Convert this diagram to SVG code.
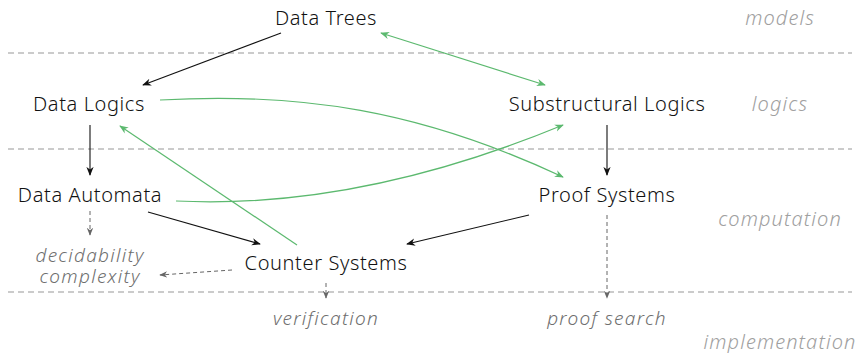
<svg xmlns="http://www.w3.org/2000/svg" width="861" height="353" viewBox="0 0 861 353">
<style>
.n{font-family:"Noto Sans","Open Sans",sans-serif;font-size:20px;font-weight:300;letter-spacing:0.6px;fill:#111;text-anchor:middle;dominant-baseline:central}
.g{font-family:"Noto Sans","Open Sans",sans-serif;font-size:19px;font-weight:300;font-style:italic;letter-spacing:1.3px;fill:#6e6e6e;text-anchor:middle;dominant-baseline:central}
.l{font-family:"Noto Sans","Open Sans",sans-serif;font-size:20px;font-weight:300;font-style:italic;letter-spacing:1.1px;fill:#a0a0a0;text-anchor:middle;dominant-baseline:central}
.sep{stroke:#bbb;stroke-width:1.3;stroke-dasharray:6 4;fill:none}
.k{stroke:#111;stroke-width:1.1;fill:none;marker-end:url(#ak)}
.gr{stroke:#5cb96f;stroke-width:1.2;fill:none;marker-end:url(#ag)}
.d{stroke:#666;stroke-width:1;stroke-dasharray:4 3;fill:none;marker-end:url(#ad)}
</style>
<defs>
<marker id="ak" viewBox="0 0 10 10" refX="9" refY="5" markerWidth="9" markerHeight="9" markerUnits="userSpaceOnUse" orient="auto"><path d="M0,1 L10,5 L0,9 L3,5 Z" fill="#111"/></marker>
<marker id="ag" viewBox="0 0 10 10" refX="9" refY="5" markerWidth="9" markerHeight="9" markerUnits="userSpaceOnUse" orient="auto-start-reverse"><path d="M0,1 L10,5 L0,9 L3,5 Z" fill="#5cb96f"/></marker>
<marker id="ad" viewBox="0 0 10 10" refX="9" refY="5" markerWidth="8" markerHeight="8" markerUnits="userSpaceOnUse" orient="auto"><path d="M0,1 L10,5 L0,9 L3,5 Z" fill="#666"/></marker>
</defs>
<g id="separators">
<line class="sep" x1="8" y1="53" x2="852" y2="53"/>
<line class="sep" x1="8" y1="149" x2="852" y2="149"/>
<line class="sep" x1="8" y1="292" x2="852" y2="292"/>
</g>
<g id="layer-labels">
<text class="l" x="780" y="17">models</text>
<text class="l" x="780" y="103">logics</text>
<text class="l" x="780" y="218">computation</text>
<text class="l" x="780" y="341">implementation</text>
</g>
<g id="connectors">
<line class="k" x1="281" y1="33" x2="143" y2="85"/>
<line class="k" x1="90" y1="125" x2="90" y2="175"/>
<line class="k" x1="607" y1="125" x2="607" y2="175"/>
<line class="k" x1="148" y1="212" x2="260" y2="244"/>
<line class="k" x1="529" y1="215" x2="407" y2="244"/>
<line class="gr" x1="545" y1="85" x2="381" y2="33" style="marker-start:url(#ag)"/>
<path class="gr" d="M160,100 C300,92 420,110 563,177"/>
<path class="gr" d="M176,201 C300,207 430,180 563,125"/>
<line class="gr" x1="297" y1="245" x2="120" y2="126"/>
<line class="d" x1="90" y1="211" x2="90" y2="235"/>
<line class="d" x1="232" y1="270" x2="160" y2="275"/>
<line class="d" x1="326" y1="283" x2="326" y2="298"/>
<line class="d" x1="607" y1="215" x2="607" y2="298"/>
</g>
<g id="data-trees"><text class="n" x="326" y="17">Data Trees</text></g>
<g id="data-logics"><text class="n" x="89" y="103">Data Logics</text></g>
<g id="substructural-logics"><text class="n" x="607" y="103">Substructural Logics</text></g>
<g id="data-automata"><text class="n" x="90" y="194">Data Automata</text></g>
<g id="proof-systems"><text class="n" x="607" y="194">Proof Systems</text></g>
<g id="counter-systems"><text class="n" x="326" y="262">Counter Systems</text></g>
<g id="decidability"><text class="g" x="90" y="255">decidability</text><text class="g" x="90" y="276">complexity</text></g>
<g id="verification"><text class="g" x="326" y="318">verification</text></g>
<g id="proof-search"><text class="g" x="607" y="318">proof search</text></g>
</svg>
